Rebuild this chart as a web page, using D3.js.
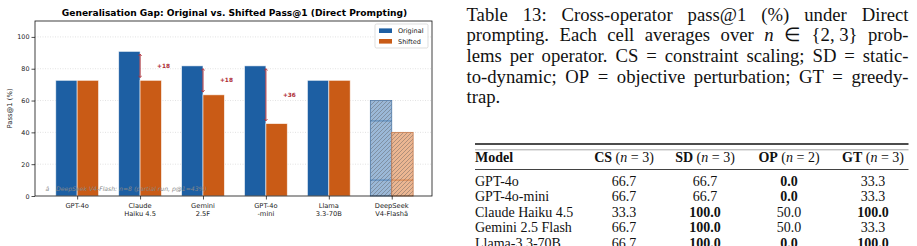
<!DOCTYPE html>
<html>
<head>
<meta charset="utf-8">
<script src="https://cdn.jsdelivr.net/npm/d3@7"></script>
<style>
  body { margin: 0; background: #fff; }
  svg { display: block; }
</style>
</head>
<body>
<svg id="fig" width="917" height="246"></svg>
<script>
// chart data
const models = ["GPT-4o", "Claude\nHaiku 4.5", "Gemini\n2.5F", "GPT-4o\n-mini", "Llama\n3.3-70B", "DeepSeek\nV4-Flashâ"];
const original = [72.7, 90.9, 81.8, 81.8, 72.7, 60.0];
const shifted = [72.7, 72.7, 63.6, 45.5, 72.7, 40.0];
const gapLabels = [null, "+18", "+18", "+36", null, null];
const partialRun = [false, false, false, false, false, true];
const partialLinesOrig = [47.2, 10];
const partialLinesShift = [10];
const yTicks = [0, 20, 40, 60, 80, 100];

// table data
const tableModels = ["GPT-4o", "GPT-4o-mini", "Claude Haiku 4.5", "Gemini 2.5 Flash", "Llama-3.3-70B"];
const csVals = [66.7, 66.7, 33.3, 66.7, 66.7];
const sdVals = [66.7, 66.7, 100.0, 100.0, 100.0];
const opVals = [0.0, 0.0, 50.0, 50.0, 0.0];
const gtVals = [33.3, 33.3, 100.0, 33.3, 100.0];
const csBold = [0, 0, 0, 0, 0];
const sdBold = [0, 0, 1, 1, 1];
const opBold = [1, 1, 0, 0, 1];
const gtBold = [0, 0, 1, 0, 1];
const opNames = ["CS", "SD", "OP", "GT"];
const opCounts = [3, 3, 2, 3];

const svg = d3.select("#fig");
const sans = "DejaVu Sans, sans-serif";
const serif = "Liberation Serif, Times New Roman, serif";
const blue = "#1d5fa3";
const orange = "#c95b16";
const red = "#ad2a33";

// ---------- chart ----------
const ax = { l: 35, r: 432, t: 21, b: 196 };
const x = d3.scaleLinear().domain([-0.67, 5.64]).range([ax.l, ax.r]);
const y = d3.scaleLinear().domain([0, 110]).range([ax.b, ax.t]);
const bw = 0.34;

const defs = svg.append("defs");
const hatch = defs.append("pattern")
  .attr("id", "hatch")
  .attr("patternUnits", "userSpaceOnUse")
  .attr("width", 4).attr("height", 4);
hatch.append("path")
  .attr("d", "M-1,1 l2,-2 M0,4 l4,-4 M3,5 l2,-2")
  .attr("stroke", "#555").attr("stroke-width", 0.5).attr("opacity", 0.8);

const markerFor = (id, d) => {
  defs.append("marker")
    .attr("id", id)
    .attr("viewBox", "0 0 6 6")
    .attr("refX", 3).attr("refY", 3)
    .attr("markerWidth", 4).attr("markerHeight", 4)
    .attr("orient", "auto")
    .append("path").attr("d", d).attr("fill", "none")
    .attr("stroke", red).attr("stroke-width", 1.2);
};
markerFor("arrowEnd", "M0.5,0.5 L3.5,3 L0.5,5.5");
markerFor("arrowStart", "M5.5,0.5 L2.5,3 L5.5,5.5");

// grid
svg.append("g").selectAll("line")
  .data(yTicks.filter(d => d > 0))
  .join("line")
  .attr("x1", ax.l).attr("x2", ax.r)
  .attr("y1", d => y(d)).attr("y2", d => y(d))
  .attr("stroke", "#cfcfcf").attr("stroke-width", 0.6)
  .attr("stroke-dasharray", "1,1.5");

// bars
const groups = svg.append("g").selectAll("g")
  .data(models.map((m, i) => ({ i, m, o: original[i], s: shifted[i], p: partialRun[i] })))
  .join("g");

groups.each(function(d) {
  const g = d3.select(this);
  const bars = [
    { x0: d.i - bw, v: d.o, col: blue, light: "#9bb8d7", edge: "#4f78a6", lines: partialLinesOrig },
    { x0: d.i, v: d.s, col: orange, light: "#ebb692", edge: "#c47a4c", lines: partialLinesShift }
  ];
  bars.forEach(b => {
    const bx = x(b.x0), bwPx = x(b.x0 + bw) - x(b.x0);
    if (!d.p) {
      g.append("rect")
        .attr("x", bx).attr("y", y(b.v))
        .attr("width", bwPx).attr("height", y(0) - y(b.v))
        .attr("fill", b.col)
        .attr("stroke", "#fff").attr("stroke-opacity", 0.7).attr("stroke-width", 0.8);
    } else {
      g.append("rect")
        .attr("x", bx).attr("y", y(b.v))
        .attr("width", bwPx).attr("height", y(0) - y(b.v))
        .attr("fill", b.light);
      g.append("rect")
        .attr("x", bx).attr("y", y(b.v))
        .attr("width", bwPx).attr("height", y(0) - y(b.v))
        .attr("fill", "url(#hatch)")
        .attr("stroke", b.edge).attr("stroke-width", 0.8);
      b.lines.forEach(v => {
        g.append("line")
          .attr("x1", bx).attr("x2", bx + bwPx)
          .attr("y1", y(v)).attr("y2", y(v))
          .attr("stroke", b.col).attr("stroke-width", 0.7).attr("opacity", 0.8);
      });
    }
  });
});

// gap arrows
gapLabels.forEach((lab, i) => {
  if (!lab) return;
  const cx = x(i);
  svg.append("line")
    .attr("x1", cx).attr("x2", cx)
    .attr("y1", y(original[i]) + 3).attr("y2", y(shifted[i]) - 3)
    .attr("stroke", red).attr("stroke-width", 1)
    .attr("marker-start", "url(#arrowStart)")
    .attr("marker-end", "url(#arrowEnd)");
  svg.append("text")
    .attr("x", cx + 23.5)
    .attr("y", (y(original[i]) + y(shifted[i])) / 2 + 2)
    .attr("text-anchor", "middle")
    .attr("font-family", sans).attr("font-size", 5.8).attr("font-weight", "bold")
    .attr("fill", red)
    .text(lab);
});

// y axis
const yAxis = svg.append("g")
  .attr("transform", `translate(${ax.l},0)`)
  .call(d3.axisLeft(y).tickValues(yTicks).tickSize(3.5).tickPadding(2));
yAxis.select(".domain").remove();
yAxis.selectAll("line").attr("stroke", "#000").attr("stroke-width", 0.7);
yAxis.selectAll("text").attr("font-family", sans).attr("font-size", 6.4).attr("fill", "#222");

// x axis
const xAxis = svg.append("g")
  .attr("transform", `translate(0,${ax.b})`)
  .call(d3.axisBottom(x).tickValues(d3.range(models.length)).tickSize(3.5).tickFormat(""));
xAxis.select(".domain").remove();
xAxis.selectAll("line").attr("stroke", "#000").attr("stroke-width", 0.7);
models.forEach((m, i) => {
  const t = svg.append("text")
    .attr("text-anchor", "middle")
    .attr("font-family", sans).attr("font-size", 6.7).attr("fill", "#222");
  m.split("\n").forEach((ln, k) => {
    t.append("tspan").attr("x", x(i)).attr("y", 207.5 + k * 8).text(ln);
  });
});

// frame
svg.append("rect")
  .attr("x", ax.l).attr("y", ax.t)
  .attr("width", ax.r - ax.l).attr("height", ax.b - ax.t)
  .attr("fill", "none").attr("stroke", "#111").attr("stroke-width", 0.8);

// labels
svg.append("text")
  .attr("transform", `translate(12,${(ax.t + ax.b) / 2}) rotate(-90)`)
  .attr("text-anchor", "middle")
  .attr("font-family", sans).attr("font-size", 6.8).attr("fill", "#222")
  .text("Pass@1 (%)");
svg.append("text")
  .attr("x", 234.5).attr("y", 15.5)
  .attr("text-anchor", "middle")
  .attr("font-family", sans).attr("font-size", 9.1).attr("font-weight", "bold")
  .text("Generalisation Gap: Original vs. Shifted Pass@1 (Direct Prompting)");

// footnote
const fn = svg.append("text")
  .attr("x", 45.5).attr("y", 191)
  .attr("font-family", sans).attr("font-size", 6.1).attr("fill", "#888")
  .attr("font-style", "italic");
fn.append("tspan").text("â");
fn.append("tspan").attr("x", 56).text("DeepSeek V4-Flash: n=8 (partial run, p@1=43%)");

// legend
const leg = svg.append("g");
leg.append("rect")
  .attr("x", 375).attr("y", 24).attr("width", 53).attr("height", 24).attr("rx", 1.5)
  .attr("fill", "#fff").attr("fill-opacity", 0.85)
  .attr("stroke", "#d0d0d0").attr("stroke-width", 0.7);
[["Original", blue], ["Shifted", orange]].forEach(([lab, col], k) => {
  const cy = 30.7 + k * 10.6;
  leg.append("rect").attr("x", 379).attr("y", cy - 2.3).attr("width", 13).attr("height", 4.6).attr("fill", col);
  leg.append("text").attr("x", 398).attr("y", cy + 2.3)
    .attr("font-family", sans).attr("font-size", 6.5).attr("fill", "#222").text(lab);
});

// ---------- caption ----------
const capLines = [
  ["Table", "13:", "Cross-operator", "pass@1", "(%)", "under", "Direct"],
  ["prompting.", "Each", "cell", "averages", "over", "_n", "∈", "{2, 3}", "prob-"],
  ["lems", "per", "operator.", "CS", "=", "constraint", "scaling;", "SD", "=", "static-"],
  ["to-dynamic;", "OP", "=", "objective", "perturbation;", "GT", "=", "greedy-"],
  ["trap."]
];
const capX0 = 466.5, capX1 = 908.5, capY0 = 20.6, capLH = 20.7, capSize = 18.7;
capLines.forEach((words, li) => {
  const yy = capY0 + li * capLH;
  const nodes = words.map(w => {
    const it = w.startsWith("_");
    return svg.append("text")
      .attr("y", yy)
      .attr("font-family", serif).attr("font-size", capSize).attr("fill", "#111")
      .attr("font-style", it ? "italic" : null)
      .text(it ? w.slice(1) : w);
  });
  const widths = nodes.map(n => n.node().getComputedTextLength());
  const total = d3.sum(widths);
  const last = li === capLines.length - 1;
  const gap = last || words.length < 2 ? capSize * 0.25 : (capX1 - capX0 - total) / (words.length - 1);
  let cx = capX0;
  nodes.forEach((n, k) => { n.attr("x", cx); cx += widths[k] + gap; });
});

// ---------- table ----------
const tSize = 14;
const tL = 475, tR = 908.5;
const colCenters = [624, 705, 789, 873];
svg.append("line").attr("x1", tL).attr("x2", tR).attr("y1", 144).attr("y2", 144)
  .attr("stroke", "#111").attr("stroke-width", 1.3);
svg.append("line").attr("x1", tL).attr("x2", tR).attr("y1", 149.8).attr("y2", 149.8)
  .attr("stroke", "#666").attr("stroke-width", 0.6);
svg.append("line").attr("x1", tL).attr("x2", tR).attr("y1", 169.5).attr("y2", 169.5)
  .attr("stroke", "#111").attr("stroke-width", 0.8);

svg.append("text").attr("x", tL).attr("y", 161.5)
  .attr("font-family", serif).attr("font-size", tSize).attr("font-weight", "bold").attr("fill", "#111")
  .text("Model");
opNames.forEach((nm, k) => {
  const t = svg.append("text").attr("x", colCenters[k]).attr("y", 161.5)
    .attr("text-anchor", "middle")
    .attr("font-family", serif).attr("font-size", tSize).attr("fill", "#111");
  t.append("tspan").attr("font-weight", "bold").text(nm);
  t.append("tspan").text(" (");
  t.append("tspan").attr("font-style", "italic").text("n");
  t.append("tspan").text(` = ${opCounts[k]})`);
});

const cols = [[csVals, csBold], [sdVals, sdBold], [opVals, opBold], [gtVals, gtBold]];
tableModels.forEach((m, r) => {
  const yy = 185.5 + r * 15.65;
  svg.append("text").attr("x", tL).attr("y", yy)
    .attr("font-family", serif).attr("font-size", tSize).attr("fill", "#111")
    .text(m);
  cols.forEach(([vals, bold], k) => {
    svg.append("text").attr("x", colCenters[k]).attr("y", yy)
      .attr("text-anchor", "middle")
      .attr("font-family", serif).attr("font-size", tSize).attr("fill", "#111")
      .attr("font-weight", bold[r] ? "bold" : null)
      .text(vals[r].toFixed(1));
  });
});
</script>
</body>
</html>
